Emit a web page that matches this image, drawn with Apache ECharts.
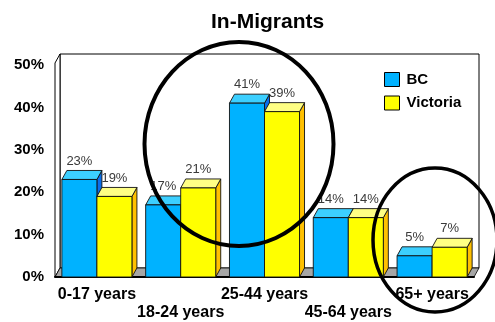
<!DOCTYPE html>
<html>
<head>
<meta charset="utf-8">
<script src="https://cdn.jsdelivr.net/npm/echarts@6/dist/echarts.min.js"></script>
<style>
  html, body { margin: 0; padding: 0; background: #fff; }
  #chart { width: 495px; height: 322px; }
</style>
</head>
<body>
<div id="chart"></div>
<script>
// Age groups and shares of in-migrants (%)
const categories = ['0-17 years', '18-24 years', '25-44 years', '45-64 years', '65+ years'];
const bcValues = [23, 17, 41, 14, 5];
const victoriaValues = [19, 21, 39, 14, 7];
const yTicks = { min: 0, max: 50, interval: 10 };

const FONT = '"Liberation Sans", Arial, sans-serif';
const DX = 5, DY = -9;          // depth offset of the pseudo-3D extrusion
const BAR_FRAC = 0.418;         // bar width as a share of one category band

const palette = {
  BC: { front: '#00B2FF', top: '#3CCFFF', side: '#0A6EEB' },
  Victoria: { front: '#FFFF00', top: '#FFFF84', side: '#FFC000' }
};

function barRenderer(slot, colors) {
  return function (params, api) {
    const cat = api.value(0), val = api.value(1);
    const base = api.coord([cat, 0]);
    const top = api.coord([cat, val]);
    const w = api.size([1, 0])[0] * BAR_FRAC;
    const x0 = slot === 0 ? base[0] - w : base[0];
    const x1 = x0 + w;
    const yb = base[1], yt = top[1];
    const edge = { stroke: '#111', lineWidth: 0.9 };
    return {
      type: 'group',
      children: [
        { type: 'polygon', shape: { points: [[x1, yt], [x1 + DX, yt + DY], [x1 + DX, yb + DY], [x1, yb]] },
          style: Object.assign({ fill: colors.side }, edge) },
        { type: 'polygon', shape: { points: [[x0, yt], [x0 + DX, yt + DY], [x1 + DX, yt + DY], [x1, yt]] },
          style: Object.assign({ fill: colors.top }, edge) },
        { type: 'rect', shape: { x: x0, y: yt, width: w, height: yb - yt },
          style: Object.assign({ fill: colors.front }, edge) },
        { type: 'text', z2: 10,
          style: { x: (x0 + x1) / 2, y: yt + DY - 9.5, text: val + '%', fill: '#3a3a3a',
                   font: '13px ' + FONT, align: 'center', verticalAlign: 'middle' } }
      ]
    };
  };
}

function wallRenderer(params, api) {
  const cs = params.coordSys;
  const left = cs.x, right = cs.x + cs.width;
  const yb = cs.y + cs.height, ytop = cs.y - 2;
  return {
    type: 'group',
    children: [
      { type: 'rect', shape: { x: left + DX, y: ytop + DY, width: right - left, height: yb - ytop },
        style: { fill: '#fff', stroke: '#000', lineWidth: 1 } },
      { type: 'polygon', shape: { points: [[left, ytop], [left + DX, ytop + DY], [left + DX, yb + DY], [left, yb]] },
        style: { fill: '#fff', stroke: '#000', lineWidth: 1 } },
      { type: 'polygon', shape: { points: [[left, yb], [left + DX, yb + DY], [right + DX, yb + DY], [right, yb]] },
        style: { fill: '#a6a6a6', stroke: '#000', lineWidth: 0.8 } }
    ]
  };
}

const chart = echarts.init(document.getElementById('chart'), null, { renderer: 'canvas' });

chart.setOption({
  animation: false,
  backgroundColor: '#fff',
  title: {
    text: 'In-Migrants',
    left: 206, top: 7,
    textStyle: { fontFamily: FONT, fontWeight: 'bold', fontSize: 21, color: '#000' }
  },
  legend: {
    orient: 'vertical',
    left: 379, top: 67,
    itemWidth: 15, itemHeight: 14, itemGap: 8.5,
    icon: 'rect',
    textStyle: { fontFamily: FONT, fontWeight: 'bold', fontSize: 15, color: '#000', padding: [0, 0, 0, 2] },
    data: [
      { name: 'BC', itemStyle: { color: palette.BC.front, borderColor: '#000', borderWidth: 1 } },
      { name: 'Victoria', itemStyle: { color: palette.Victoria.front, borderColor: '#000', borderWidth: 1 } }
    ]
  },
  grid: { left: 55, right: 21, top: 65, bottom: 44, containLabel: false },
  xAxis: {
    type: 'category',
    data: categories,
    axisLine: { show: true, lineStyle: { color: '#000', width: 2 } },
    axisTick: { show: false },
    axisLabel: {
      interval: 0, margin: 9,
      fontFamily: FONT, fontWeight: 'bold', fontSize: 16, color: '#000', lineHeight: 18,
      formatter: (v, i) => (i % 2 ? '\n' + v : v)
    },
    splitLine: { show: false }
  },
  yAxis: {
    type: 'value',
    min: yTicks.min, max: yTicks.max, interval: yTicks.interval,
    axisLine: { show: false },
    axisTick: { show: false },
    splitLine: { show: false },
    axisLabel: {
      margin: 11, formatter: '{value}%',
      fontFamily: FONT, fontWeight: 'bold', fontSize: 15, color: '#000'
    }
  },
  series: [
    { type: 'custom', name: 'walls', silent: true, clip: false, z: 0,
      renderItem: wallRenderer, data: [[0, 0]] },
    { type: 'custom', name: 'BC', clip: false, z: 2,
      itemStyle: { color: palette.BC.front },
      renderItem: barRenderer(0, palette.BC),
      data: bcValues.map((v, i) => [i, v]) },
    { type: 'custom', name: 'Victoria', clip: false, z: 3,
      itemStyle: { color: palette.Victoria.front },
      renderItem: barRenderer(1, palette.Victoria),
      data: victoriaValues.map((v, i) => [i, v]) }
  ],
  graphic: [
    // hand-drawn emphasis rings
    { type: 'ellipse', z: 100, silent: true,
      shape: { cx: 239, cy: 144, rx: 94.5, ry: 102 },
      style: { fill: 'none', stroke: '#000', lineWidth: 4 } },
    { type: 'ellipse', z: 100, silent: true,
      shape: { cx: 435, cy: 240, rx: 62, ry: 72 },
      style: { fill: 'none', stroke: '#000', lineWidth: 3.5 } }
  ]
});
</script>
</body>
</html>
